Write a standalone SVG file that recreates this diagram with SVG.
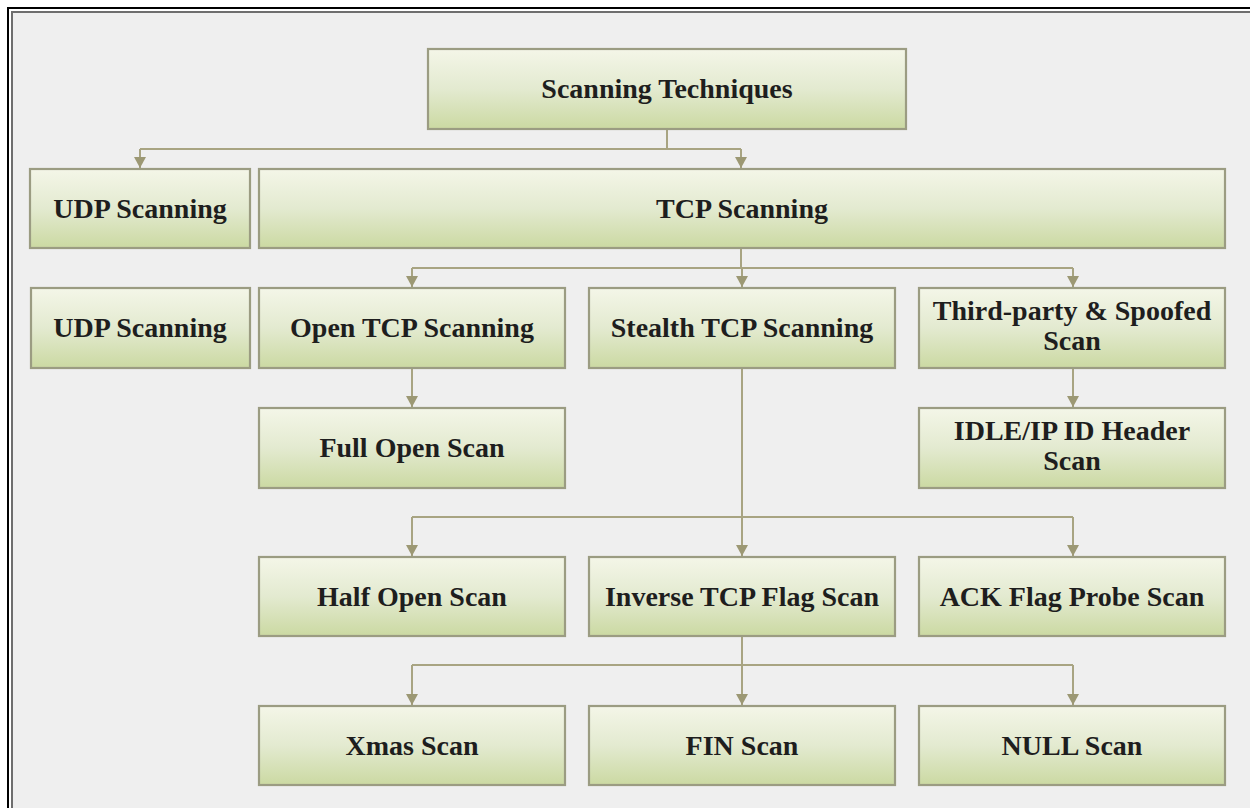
<svg xmlns="http://www.w3.org/2000/svg" width="1250" height="808" viewBox="0 0 1250 808">
<defs>
<linearGradient id="g" x1="0" y1="0" x2="0" y2="1">
<stop offset="0" stop-color="#f4f6e8"/>
<stop offset="0.5" stop-color="#e3ead0"/>
<stop offset="1" stop-color="#cbd9a2"/>
</linearGradient>
<marker id="ah" markerWidth="11" markerHeight="12" refX="11" refY="6" orient="auto" markerUnits="userSpaceOnUse" viewBox="0 0 11 12">
<path d="M0,0 L11,6 L0,12 Z" fill="#9c9874"/>
</marker>
<style>
.box{fill:url(#g);stroke:#9b9c82;stroke-width:2.2}
.t{font-family:"Liberation Serif","Times New Roman",serif;font-weight:bold;font-size:28px;fill:#1e1e1e;text-anchor:middle}
.c{fill:none;stroke:#a8a482;stroke-width:2}
.a{fill:none;stroke:#a8a482;stroke-width:2;marker-end:url(#ah)}
</style>
</defs>
<rect x="0" y="0" width="1250" height="808" fill="#ffffff"/>
<rect x="13" y="13" width="1237" height="795" fill="#efefef"/>
<path d="M8,808 V8 H1250" fill="none" stroke="#000" stroke-width="2"/>
<path d="M12,808 V12 H1250" fill="none" stroke="#6e6e6e" stroke-width="2"/>

<g id="connectors">
<path class="c" d="M667,129 V149 M140,149 H741 M741,248 V268 M412,268 H1073 M742,368 V517 M412,517 H1073 M742,636 V665 M412,665 H1073"/>
<path class="a" d="M140,149 V168"/>
<path class="a" d="M741,149 V168"/>
<path class="a" d="M412,268 V287"/>
<path class="a" d="M742,268 V287"/>
<path class="a" d="M1073,268 V287"/>
<path class="a" d="M412,368 V407"/>
<path class="a" d="M1073,368 V407"/>
<path class="a" d="M412,517 V556"/>
<path class="a" d="M742,517 V556"/>
<path class="a" d="M1073,517 V556"/>
<path class="a" d="M412,665 V705"/>
<path class="a" d="M742,665 V705"/>
<path class="a" d="M1073,665 V705"/>
</g>

<g id="root"><rect class="box" x="428" y="49" width="478" height="80"/><text class="t" x="667" y="98">Scanning Techniques</text></g>
<g id="udp1"><rect class="box" x="30" y="169" width="220" height="79"/><text class="t" x="140" y="218">UDP Scanning</text></g>
<g id="tcp"><rect class="box" x="259" y="169" width="966" height="79"/><text class="t" x="742" y="218">TCP Scanning</text></g>
<g id="udp2"><rect class="box" x="31" y="288" width="219" height="80"/><text class="t" x="140" y="337">UDP Scanning</text></g>
<g id="opentcp"><rect class="box" x="259" y="288" width="306" height="80"/><text class="t" x="412" y="337">Open TCP Scanning</text></g>
<g id="stealth"><rect class="box" x="589" y="288" width="306" height="80"/><text class="t" x="742" y="337">Stealth TCP Scanning</text></g>
<g id="thirdparty"><rect class="box" x="919" y="288" width="306" height="80"/><text class="t" x="1072" y="320">Third-party &amp; Spoofed</text><text class="t" x="1072" y="350">Scan</text></g>
<g id="fullopen"><rect class="box" x="259" y="408" width="306" height="80"/><text class="t" x="412" y="457">Full Open Scan</text></g>
<g id="idle"><rect class="box" x="919" y="408" width="306" height="80"/><text class="t" x="1072" y="440">IDLE/IP ID Header</text><text class="t" x="1072" y="470">Scan</text></g>
<g id="halfopen"><rect class="box" x="259" y="557" width="306" height="79"/><text class="t" x="412" y="606">Half Open Scan</text></g>
<g id="inverse"><rect class="box" x="589" y="557" width="306" height="79"/><text class="t" x="742" y="606">Inverse TCP Flag Scan</text></g>
<g id="ack"><rect class="box" x="919" y="557" width="306" height="79"/><text class="t" x="1072" y="606">ACK Flag Probe Scan</text></g>
<g id="xmas"><rect class="box" x="259" y="706" width="306" height="79"/><text class="t" x="412" y="755">Xmas Scan</text></g>
<g id="fin"><rect class="box" x="589" y="706" width="306" height="79"/><text class="t" x="742" y="755">FIN Scan</text></g>
<g id="null"><rect class="box" x="919" y="706" width="306" height="79"/><text class="t" x="1072" y="755">NULL Scan</text></g>
</svg>
